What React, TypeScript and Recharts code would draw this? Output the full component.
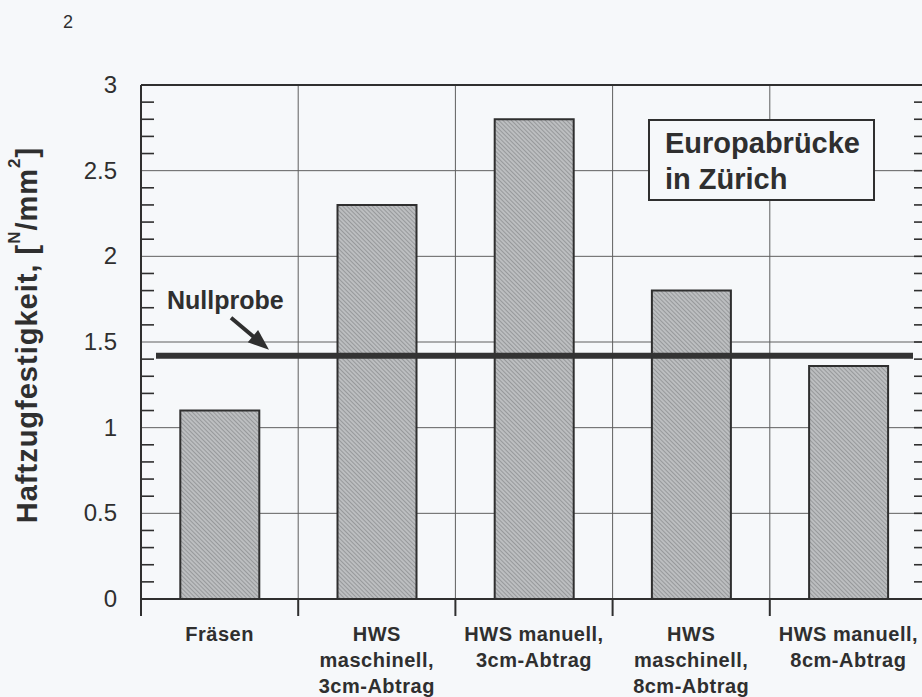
import React from 'react';
import { BarChart, Bar, XAxis, YAxis, CartesianGrid, ReferenceLine } from 'recharts';

const categories = [
  'Fräsen',
  'HWS maschinell, 3cm-Abtrag',
  'HWS manuell, 3cm-Abtrag',
  'HWS maschinell, 8cm-Abtrag',
  'HWS manuell, 8cm-Abtrag',
];
const categoryLines = [
  ['Fräsen'],
  ['HWS', 'maschinell,', '3cm-Abtrag'],
  ['HWS manuell,', '3cm-Abtrag'],
  ['HWS', 'maschinell,', '8cm-Abtrag'],
  ['HWS manuell,', '8cm-Abtrag'],
];
const values = [1.1, 2.3, 2.8, 1.8, 1.36];
const nullprobeValue = 1.42;
const majorTicks = [0, 0.5, 1, 1.5, 2, 2.5, 3];
const minorTicks = [0, 0.1, 0.2, 0.3, 0.4, 0.5, 0.6, 0.7, 0.8, 0.9, 1, 1.1, 1.2, 1.3, 1.4, 1.5, 1.6, 1.7, 1.8, 1.9, 2, 2.1, 2.2, 2.3, 2.4, 2.5, 2.6, 2.7, 2.8, 2.9, 3];
const gridYValues = [0.5, 1, 1.5, 2, 2.5];
const yTitle = 'Haftzugfestigkeit, [';
const legendLines = ['Europabrücke', 'in Zürich'];
const pageNumber = '2';

const data = categories.map((name, i) => ({ name, value: values[i] }));

const FONT = "'Liberation Sans', Arial, Helvetica, sans-serif";
const INK = '#2f2f2f';
const BG = '#f6f8fa';

const isMajor = (v: number) => majorTicks.some((m) => Math.abs(m - v) < 1e-6);

const LeftTick = (props: any) => {
  const { x, y, payload } = props;
  const v = payload.value as number;
  if (isMajor(v)) {
    return (
      <text x={x - 24} y={y + 8} textAnchor="end" fontFamily={FONT} fontSize={24} fill={INK}>
        {String(v)}
      </text>
    );
  }
  return <line x1={x} x2={x + 13} y1={y} y2={y} stroke={INK} strokeWidth={1.6} />;
};

const RightTick = (props: any) => {
  const { x, y, payload } = props;
  const v = payload.value as number;
  if (v <= 0 || v >= 3) return <g />;
  return <line x1={x - 13} x2={x} y1={y} y2={y} stroke={INK} strokeWidth={1.6} />;
};

const CatTick = (props: any) => {
  const { x, y, payload, width } = props;
  const idx = categories.indexOf(payload.value);
  const lines = categoryLines[idx] || [payload.value];
  const bw = (Number(width) || 786) / categories.length;
  return (
    <g>
      <line x1={x - bw / 2} x2={x - bw / 2} y1={y} y2={y + 17} stroke={INK} strokeWidth={2} />
      {idx === categories.length - 1 && (
        <line x1={x + bw / 2} x2={x + bw / 2} y1={y} y2={y + 17} stroke={INK} strokeWidth={2} />
      )}
      {lines.map((l: string, i: number) => (
        <text
          key={i}
          x={x}
          y={y + 42 + i * 26}
          textAnchor="middle"
          fontFamily={FONT}
          fontWeight="bold"
          fontSize={20}
          fill={INK}
          style={{ letterSpacing: '0.5px' }}
        >
          {l}
        </text>
      ))}
    </g>
  );
};

const YTitle = (props: any) => {
  const vb = props.viewBox || { x: 0, y: 85, width: 141, height: 514 };
  const x = vb.x + 37;
  const y = vb.y + vb.height / 2 - 7;
  return (
    <text
      x={x}
      y={y}
      transform={`rotate(-90 ${x} ${y})`}
      textAnchor="middle"
      fontFamily={FONT}
      fontWeight="bold"
      fontSize={29}
      fill={INK}
      style={{ letterSpacing: '1px' }}
    >
      {yTitle}
      <tspan fontSize={17} dy={-17}>N</tspan>
      <tspan dy={17}>/mm</tspan>
      <tspan fontSize={17} dy={-17}>2</tspan>
      <tspan dy={17}>]</tspan>
    </text>
  );
};

const NullprobeShape = (props: any) => {
  const x1 = Number(props.x1);
  const x2 = Number(props.x2);
  const y = Number(props.y1);
  const tipX = x1 + 128;
  const tipY = y - 6;
  const sx = tipX - 38;
  const sy = tipY - 32;
  const len = Math.hypot(tipX - sx, tipY - sy);
  const dx = (tipX - sx) / len;
  const dy = (tipY - sy) / len;
  const headLen = 21;
  const headHalf = 8;
  const bx = tipX - dx * headLen;
  const by = tipY - dy * headLen;
  const px = -dy;
  const py = dx;
  return (
    <g>
      <line x1={x1 + 15} x2={x2 - 14} y1={y} y2={y} stroke="#333333" strokeWidth={6} />
      <text x={x1 + 26} y={y - 47} fontFamily={FONT} fontWeight="bold" fontSize={25} fill={INK}>
        Nullprobe
      </text>
      <line x1={sx} y1={sy} x2={bx + dx * 2} y2={by + dy * 2} stroke={INK} strokeWidth={4} />
      <polygon
        points={`${tipX},${tipY} ${bx + px * headHalf},${by + py * headHalf} ${bx - px * headHalf},${by - py * headHalf}`}
        fill={INK}
      />
    </g>
  );
};

const boundaryGenerator = (p: any) => {
  const off = p.offset || { left: 141, width: 786 };
  const bw = off.width / categories.length;
  return categories.slice(1).map((_, i) => off.left + (i + 1) * bw);
};

export default function App() {
  return (
    <div style={{ position: 'absolute', left: 0, top: 0, width: 922, height: 697, overflow: 'hidden', background: BG }}>
      <svg width={0} height={0} style={{ position: 'absolute' }}>
        <defs>
          <pattern id="hatch" patternUnits="userSpaceOnUse" width={3} height={3} patternTransform="rotate(-45)">
            <rect width={3} height={3} fill="#bcbec0" />
            <rect width={1} height={3} fill="#97999b" />
          </pattern>
        </defs>
      </svg>
      <BarChart
        width={935}
        height={697}
        data={data}
        margin={{ top: 85, right: 0, bottom: 0, left: 0 }}
        barCategoryGap="25%"
      >
        <CartesianGrid
          yAxisId="y"
          stroke="#5f5f5f"
          strokeWidth={1}
          horizontalValues={gridYValues}
          verticalCoordinatesGenerator={boundaryGenerator}
        />
        <XAxis
          dataKey="name"
          height={98}
          axisLine={{ stroke: INK, strokeWidth: 2 }}
          tickLine={false}
          tickSize={0}
          tickMargin={0}
          interval={0}
          tick={CatTick}
        />
        <YAxis
          yAxisId="y"
          type="number"
          domain={[0, 3]}
          allowDataOverflow
          ticks={minorTicks}
          interval={0}
          width={141}
          tickSize={0}
          tickMargin={0}
          tickLine={false}
          axisLine={{ stroke: INK, strokeWidth: 2 }}
          tick={LeftTick}
          label={{ content: YTitle }}
        />
        <YAxis
          yAxisId="yr"
          orientation="right"
          type="number"
          domain={[0, 3]}
          allowDataOverflow
          ticks={minorTicks}
          interval={0}
          width={8}
          tickSize={0}
          tickMargin={0}
          tickLine={false}
          axisLine={{ stroke: INK, strokeWidth: 2 }}
          tick={RightTick}
        />
        <Bar
          yAxisId="y"
          dataKey="value"
          fill="url(#hatch)"
          stroke={INK}
          strokeWidth={2}
          isAnimationActive={false}
        />
        <ReferenceLine yAxisId="y" y={3} stroke={INK} strokeWidth={2} />
        <ReferenceLine yAxisId="y" y={nullprobeValue} shape={NullprobeShape} />
      </BarChart>
      <svg
        width={922}
        height={697}
        style={{ position: 'absolute', left: 0, top: 0, pointerEvents: 'none' }}
      >
        <text x={63} y={28} fontFamily={FONT} fontSize={18} fill={INK}>
          {pageNumber}
        </text>
        <rect x={649} y={120} width={225} height={80} fill={BG} stroke={INK} strokeWidth={2} />
        {legendLines.map((l, i) => (
          <text key={i} x={665} y={153 + i * 36} fontFamily={FONT} fontWeight="bold" fontSize={29} fill={INK}>
            {l}
          </text>
        ))}
      </svg>
    </div>
  );
}
